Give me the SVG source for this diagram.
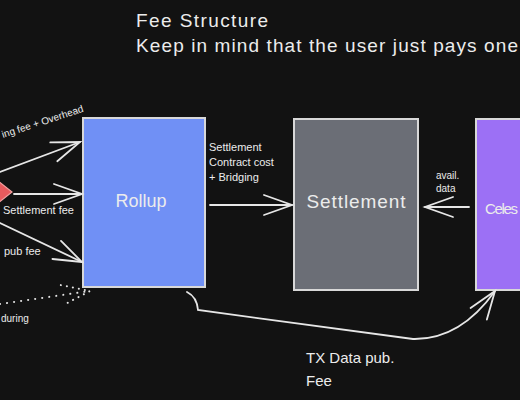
<svg xmlns="http://www.w3.org/2000/svg" width="520" height="400" viewBox="0 0 520 400">
  <defs>
    <style>
      .t { font-family: "Liberation Sans", "DejaVu Sans", sans-serif; fill: #ececec; }
      .box { stroke: #d8d8d8; stroke-width: 2; }
      .ln { fill: none; stroke: #e6e6e6; stroke-width: 1.8; stroke-linecap: round; }
      .dot { fill: none; stroke: #e6e6e6; stroke-width: 2; stroke-linecap: round; stroke-dasharray: 0.1 7; }
    </style>
    <marker id="ah" markerUnits="userSpaceOnUse" markerWidth="34" markerHeight="26" refX="30" refY="13" orient="auto">
      <path d="M2,3 L30,13 L2,23" fill="none" stroke="#e6e6e6" stroke-width="1.8" stroke-linecap="round"/>
    </marker>
    <marker id="ahd" markerUnits="userSpaceOnUse" markerWidth="34" markerHeight="26" refX="30" refY="13" orient="auto">
      <path d="M2,3 L30,13 L2,23" fill="none" stroke="#e6e6e6" stroke-width="2" stroke-linecap="round" stroke-dasharray="0.1 6"/>
    </marker>
  </defs>
  <rect width="520" height="400" fill="#121212"/>

  <text class="t" x="136" y="27" font-size="19" textLength="132">Fee Structure</text>
  <text class="t" x="136" y="52" font-size="19" textLength="382">Keep in mind that the user just pays one</text>

  <g id="source">
    <path d="M-8,176 L12,192 L-8,208 Z" fill="#e85b5e" stroke="#f2a0a0" stroke-width="1.2"/>
  </g>

  <g id="rollup">
    <rect class="box" x="83" y="118" width="122" height="169" fill="#7090f5"/>
    <text class="t" x="141" y="207" font-size="18" text-anchor="middle" fill="#e8ecf8">Rollup</text>
  </g>

  <g id="settlement">
    <rect class="box" x="294" y="119" width="124" height="171" fill="#6b6e76"/>
    <text class="t" x="356" y="208" font-size="19" text-anchor="middle" textLength="99">Settlement</text>
  </g>

  <g id="celestia">
    <rect class="box" x="476" y="119" width="60" height="171" fill="#9c70f5"/>
    <text class="t" x="485" y="214" font-size="15" textLength="33" fill="#ece2ff">Celes</text>
  </g>

  <g id="connectors">
    <path class="ln" d="M0,172 L80,142" marker-end="url(#ah)"/>
    <path class="ln" d="M14,194 L82,194" marker-end="url(#ah)"/>
    <path class="ln" d="M0,223 L82,262" marker-end="url(#ah)"/>
    <path class="dot" d="M0,304 L90,291" marker-end="url(#ahd)"/>
    <path class="ln" d="M210,205 L292,205" marker-end="url(#ah)"/>
    <path class="ln" d="M469,207 L425,207" marker-end="url(#ah)"/>
    <path class="ln" d="M187,292 Q197,297 198,310 L413,339 Q460,340 495,291" marker-end="url(#ah)"/>
  </g>

  <g id="labels">
    <text class="t" x="3" y="138" font-size="10" transform="rotate(-18 3 138)">ing fee + Overhead</text>
    <text class="t" x="3" y="214" font-size="11">Settlement fee</text>
    <text class="t" x="4" y="255" font-size="11">pub fee</text>
    <text class="t" x="1" y="322" font-size="10">during</text>
    <text class="t" x="209" y="151" font-size="11">Settlement</text>
    <text class="t" x="209" y="166" font-size="11">Contract cost</text>
    <text class="t" x="209" y="181" font-size="11">+ Bridging</text>
    <text class="t" x="436" y="179" font-size="10">avail.</text>
    <text class="t" x="436" y="192" font-size="10">data</text>
    <text class="t" x="306" y="363" font-size="15">TX Data pub.</text>
    <text class="t" x="306" y="386" font-size="15">Fee</text>
  </g>
</svg>
